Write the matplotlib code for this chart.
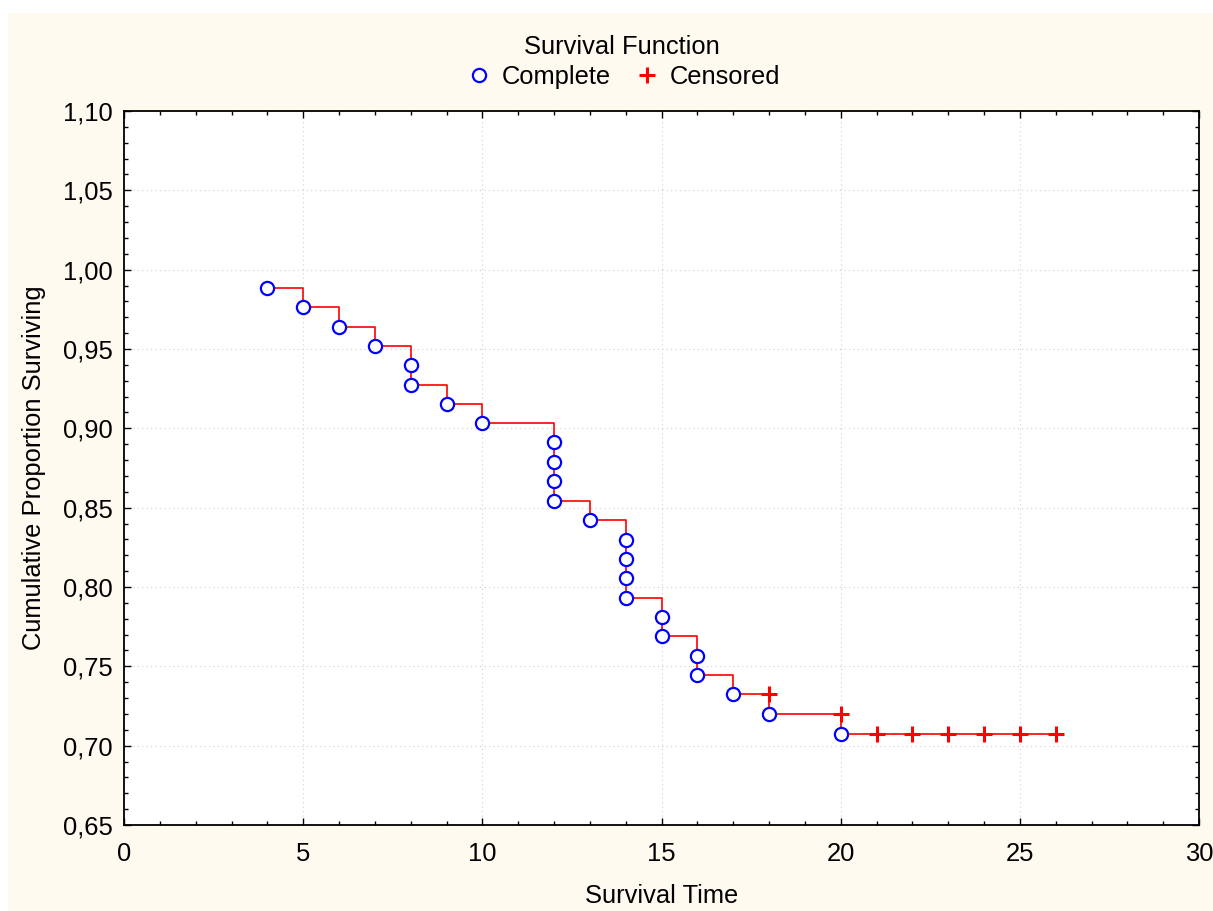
import matplotlib
matplotlib.use("Agg")
import matplotlib.pyplot as plt
from matplotlib.patches import Rectangle
from matplotlib.ticker import FuncFormatter, MultipleLocator

plt.rcParams["font.family"] = ["Liberation Sans", "DejaVu Sans"]

# event times with estimated survival
complete_time = [4, 5, 6, 7, 8, 8, 9, 10, 12, 12, 12, 12, 13,
                 14, 14, 14, 14, 15, 15, 16, 16, 17, 18, 20]
complete_surv = [0.9885, 0.9765, 0.9639, 0.9519, 0.9399, 0.9274, 0.9154, 0.9034,
                 0.8914, 0.8788, 0.8668, 0.8542, 0.8422,
                 0.8296, 0.8176, 0.8056, 0.7930, 0.7811, 0.7691,
                 0.7565, 0.7445, 0.7325, 0.7199, 0.7073]
censored_time = [18, 20, 21, 22, 23, 24, 25, 26]
censored_surv = [0.7325, 0.7199, 0.7073, 0.7073, 0.7073, 0.7073, 0.7073, 0.7073]

# order of all observations along the curve (censored drawn before the drop)
points = [(t, s, 1) for t, s in zip(complete_time, complete_surv)] + \
         [(t, s, 0) for t, s in zip(censored_time, censored_surv)]
points.sort(key=lambda p: (p[0], -p[1]))
step_x = [p[0] for p in points]
step_y = [p[1] for p in points]

FS = 18.4

fig = plt.figure(figsize=(12.13, 9.11), dpi=100)
bg = Rectangle((8 / 1213, 0), 1, 1 - 13 / 911, transform=fig.transFigure,
               facecolor="#fffaf0", edgecolor="none", zorder=-10)
fig.add_artist(bg)
ax = fig.add_axes([124 / 1213, 1 - 825 / 911, 1075 / 1213, 714 / 911])

ax.step(step_x, step_y, where="post", color="#ff0000", lw=1.2, zorder=2)
ax.plot(complete_time, complete_surv, "o", ms=9.5, mfc="white", mec="#0000ff",
        mew=1.6, ls="none", label="Complete", zorder=3)
ax.plot(censored_time, censored_surv, "+", ms=11, mec="#ff0000", mew=2.2,
        ls="none", label="Censored", zorder=3)

ax.set_xlim(0, 30)
ax.set_ylim(0.65, 1.10)
ax.xaxis.set_major_locator(MultipleLocator(5))
ax.xaxis.set_minor_locator(MultipleLocator(1))
ax.yaxis.set_major_locator(MultipleLocator(0.05))
ax.yaxis.set_minor_locator(MultipleLocator(0.01))
ax.yaxis.set_major_formatter(FuncFormatter(lambda v, _: f"{v:.2f}".replace(".", ",")))
ax.tick_params(which="both", direction="in", top=True, right=True, color="black",
               labelsize=FS, width=1)
ax.tick_params(which="major", length=5, pad=8)
ax.tick_params(axis="x", which="major", pad=12.5)
ax.tick_params(which="minor", length=3)
for sp in ax.spines.values():
    sp.set_linewidth(1.3)
ax.grid(which="major", ls=(0, (1, 3)), color="#d0d0d0", lw=0.8)

ax.set_xlabel("Survival Time", fontsize=FS, labelpad=13)
ax.set_ylabel("Cumulative Proportion Surviving", fontsize=FS, labelpad=12)

leg = fig.legend(loc="center", bbox_to_anchor=(622 / 1213, 1 - 62 / 911), ncol=2,
                 frameon=False, title="Survival Function", fontsize=FS,
                 title_fontsize=FS, handletextpad=0.3, columnspacing=0.8,
                 handlelength=1.2, borderpad=0.1, labelspacing=0.2)

fig.savefig("out.png", dpi=100)
